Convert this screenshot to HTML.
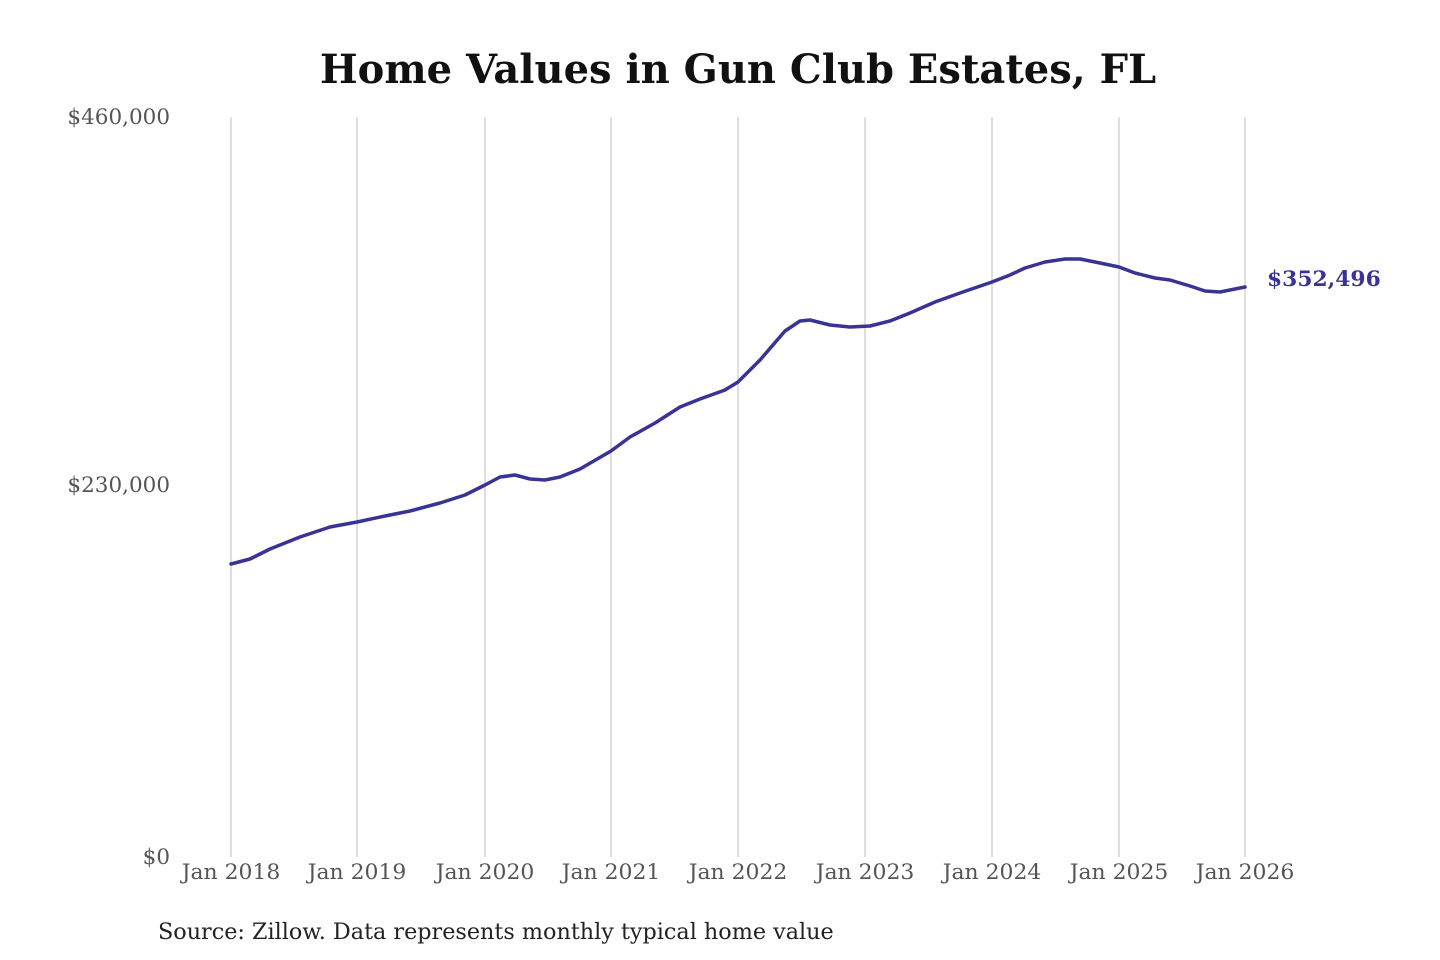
<!DOCTYPE html>
<html><head><meta charset="utf-8"><style>
html,body{margin:0;padding:0;background:#fff;}
svg{display:block;}
</style></head><body>
<svg width="1440" height="960" viewBox="0 0 1440 960" xmlns="http://www.w3.org/2000/svg">
<rect width="1440" height="960" fill="#fff"/>
<text x="738" y="83" text-anchor="middle" font-family="DejaVu Serif, Liberation Serif, serif" font-weight="bold" font-size="40" fill="#111">Home Values in Gun Club Estates, FL</text>
<g stroke="#c8c8c8" stroke-width="1.2">
<line x1="231" y1="117" x2="231" y2="857"/>
<line x1="357" y1="117" x2="357" y2="857"/>
<line x1="485" y1="117" x2="485" y2="857"/>
<line x1="611" y1="117" x2="611" y2="857"/>
<line x1="738" y1="117" x2="738" y2="857"/>
<line x1="865" y1="117" x2="865" y2="857"/>
<line x1="992" y1="117" x2="992" y2="857"/>
<line x1="1119" y1="117" x2="1119" y2="857"/>
<line x1="1245" y1="117" x2="1245" y2="857"/>
</g>
<g font-family="DejaVu Serif, Liberation Serif, serif" font-size="21.5" fill="#555">
<text x="170" y="124" text-anchor="end">$460,000</text>
<text x="170" y="492" text-anchor="end">$230,000</text>
<text x="170" y="864" text-anchor="end">$0</text>
</g>
<g font-family="DejaVu Serif, Liberation Serif, serif" font-size="21.9" fill="#555" text-anchor="middle">
<text x="231" y="879">Jan 2018</text>
<text x="357" y="879">Jan 2019</text>
<text x="485" y="879">Jan 2020</text>
<text x="611" y="879">Jan 2021</text>
<text x="738" y="879">Jan 2022</text>
<text x="865" y="879">Jan 2023</text>
<text x="992" y="879">Jan 2024</text>
<text x="1119" y="879">Jan 2025</text>
<text x="1245" y="879">Jan 2026</text>
</g>
<polyline fill="none" stroke="#3a3396" stroke-width="3.5" stroke-linejoin="round" stroke-linecap="round"
points="231,564 250,559 270,549 300,537 330,527 357,522 385,516 410,511 440,503 465,495 485,485 500,477 515,475 530,479 545,480 560,477 580,469 611,451 630,437 655,423 680,407 700,399 725,390 738,382 760,360 785,331 800,321 810,320 830,325 850,327 870,326 890,321 910,313 935,302 960,293 992,282 1010,275 1025,268 1045,262 1065,259 1080,259 1100,263 1119,267 1135,273 1155,278 1170,280 1190,286 1205,291 1220,292 1245,287"/>
<text x="1267" y="286" font-family="DejaVu Serif, Liberation Serif, serif" font-weight="bold" font-size="21.8" fill="#3a3396">$352,496</text>
<text x="158" y="939" font-family="DejaVu Serif, Liberation Serif, serif" font-size="22.3" fill="#222">Source: Zillow. Data represents monthly typical home value</text>
</svg>
</body></html>
